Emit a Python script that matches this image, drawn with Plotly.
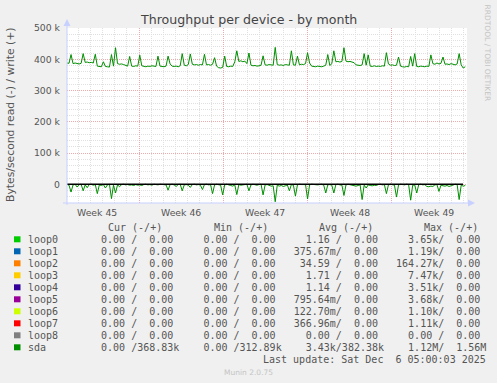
import plotly.graph_objects as go
import pandas as pd

# ---------------- data ----------------
title = "Throughput per device - by month"
y_title = "Bytes/second read (-) / write (+)"

# sda write (+) in kB/s, 4-hourly-ish samples
sda_write_k = [
    388, 387, 415, 386, 388, 386, 385, 387, 418, 390,
    391, 389, 390, 388, 416, 378, 377, 376, 392, 377,
    376, 375, 415, 378, 437, 386, 384, 385, 383, 381,
    378, 409, 378, 377, 379, 378, 413, 379, 377, 376,
    378, 377, 379, 378, 377, 410, 378, 377, 376, 378,
    410, 385, 378, 377, 378, 376, 379, 418, 381, 379,
    383, 417, 384, 382, 383, 381, 383, 382, 416, 382,
    383, 381, 384, 405, 378, 373, 372, 374, 410, 377,
    376, 378, 377, 392, 427, 393, 395, 392, 394, 386,
    420, 381, 379, 380, 378, 379, 381, 411, 382, 381,
    383, 382, 381, 438, 383, 381, 382, 380, 383, 382,
    381, 427, 382, 381, 410, 382, 384, 383, 386, 421,
    388, 378, 377, 376, 378, 377, 376, 378, 381, 415,
    380, 386, 427, 392, 393, 391, 393, 437, 394, 392,
    393, 391, 389, 382, 381, 380, 382, 418, 381, 414,
    378, 377, 379, 377, 378, 377, 379, 378, 421, 385,
    381, 382, 380, 381, 407, 378, 376, 375, 377, 376,
    409, 378, 418, 377, 376, 378, 377, 376, 378, 377,
    414, 386, 384, 388, 385, 387, 407, 384, 385, 383,
    386, 384, 382, 385, 418, 382, 372, 376,
]

# sda read (-) in kB/s (drawn below zero)
sda_read_k = [
    0, -3, -25, -2, 0, -9, -1, 0, -21, -2,
    -11, -1, 0, -3, -1, -30, -2, -4, -1, -12,
    -2, 0, -46, -3, -28, -2, -8, -1, 0, -2,
    -1, -3, -2, -4, -1, -3, -2, -4, -1, 0,
    -2, -1, -3, 0, -1, -2, 0, -1, 0, -2,
    -19, -1, 0, -2, -7, -1, 0, -21, -2, -1,
    -3, -10, -1, 0, -2, -1, -3, -17, -1, 0,
    -2, -1, -30, -2, 0, -1, -3, -34, -2, 0,
    -1, -4, -6, -2, -33, -1, -3, -2, -1, 0,
    -21, -2, 0, -1, -3, -1, 0, -34, -2, -1,
    -3, -6, -5, -56, -3, -6, -4, -7, -5, -2,
    -21, -1, -3, -38, -2, 0, -1, -2, -1, -47,
    -2, 0, -1, 0, -2, -1, 0, -3, -28, -2,
    -1, -3, -28, -1, 0, -2, -3, -36, -2, 0,
    -1, -3, -5, -6, -4, -2, -49, -3, -12, -2,
    -4, -5, -3, -4, -1, 0, -2, -1, -30, -2,
    0, -1, -3, -41, -2, 0, -1, -2, 0, -1,
    -51, -3, -2, -28, -1, 0, -2, -1, -7, -8,
    -6, -7, -2, -1, -23, -3, -5, -6, -4, -7,
    -5, -2, 0, -1, -49, -3, -6, -4,
]

range_start = "2025-11-03 00:20"
range_end = "2025-12-06 06:25"
week_starts = ["2025-11-09", "2025-11-16", "2025-11-23", "2025-11-30"]
week_label_pos = ["2025-11-05 12:00", "2025-11-12 12:00", "2025-11-19 12:00",
                  "2025-11-26 12:00", "2025-12-03 12:00"]
week_labels = ["Week 45", "Week 46", "Week 47", "Week 48", "Week 49"]

y_tickvals = [0, 100000, 200000, 300000, 400000, 500000]
y_ticktext = ["0", "100 k", "200 k", "300 k", "400 k", "500 k"]

legend_names = ["loop0", "loop1", "loop2", "loop3", "loop4", "loop5",
                "loop6", "loop7", "loop8", "sda"]
legend_colors = ["#00CC00", "#0066B3", "#FF8000", "#FFCC00", "#330099",
                 "#990099", "#CCFF00", "#FF0000", "#808080", "#008F00"]
col_cur = ["  0.00 /  0.00 "] * 9 + ["  0.00 /368.83k"]
col_min = ["  0.00 /  0.00 "] * 9 + ["  0.00 /312.89k"]
col_avg = ["  1.16 /  0.00 ", "375.67m/  0.00 ", " 34.59 /  0.00 ", "  1.71 /  0.00 ",
           "  1.14 /  0.00 ", "795.64m/  0.00 ", "122.70m/  0.00 ", "366.96m/  0.00 ",
           "  0.00 /  0.00 ", "  3.43k/382.38k"]
col_max = ["  3.65k/  0.00 ", "  1.19k/  0.00 ", "164.27k/  0.00 ", "  7.47k/  0.00 ",
           "  3.51k/  0.00 ", "  3.68k/  0.00 ", "  1.10k/  0.00 ", "  1.11k/  0.00 ",
           "  0.00 /  0.00 ", "  1.12M/  1.56M"]
headers = ["Cur (-/+)", "Min (-/+)", "Avg (-/+)", "Max (-/+)"]
last_update = "Last update: Sat Dec  6 05:00:03 2025"
footer = "Munin 2.0.75"
side_text = "RRDTOOL / TOBI OETIKER"

# ---------------- layout helpers ----------------
W, H = 497, 383
PL, PR, PT, PB = 67, 467, 28, 203
PW, PH = PR - PL, PB - PT


def px(X):
    return (X - PL) / PW


def py(Y):
    return (PB - Y) / PH


def nb(s):
    return s.replace(" ", "\u00a0")


times = pd.date_range(range_start, periods=len(sda_write_k), freq="242min")

# minor grid positions: every midnight except the week boundaries; every 20k except majors
all_days = pd.date_range("2025-11-03", "2025-12-06", freq="D")
minor_days = [d for d in all_days if d.strftime("%Y-%m-%d") not in week_starts]
minor_y = [v for v in range(-60000, 500001, 20000) if v % 100000 != 0]

GREEN = "#008F00"
TXT = "#555555"
MONO = "DejaVu Sans Mono"
SANS = "DejaVu Sans"
MAJOR = "#EDAAAA"
MINOR = "#E0E0E0"

fig = go.Figure()
fig.add_trace(go.Scatter(x=times, y=[v * 1000 for v in sda_read_k], mode="lines",
                         line=dict(color=GREEN, width=1), hoverinfo="skip"))
fig.add_trace(go.Scatter(x=times, y=[v * 1000 for v in sda_write_k], mode="lines",
                         line=dict(color=GREEN, width=1), hoverinfo="skip"))

fig.update_layout(
    width=W, height=H,
    margin=dict(l=PL, r=W - PR, t=PT, b=H - PB),
    paper_bgcolor="#F0F0F0", plot_bgcolor="#FFFFFF",
    showlegend=False,
    font=dict(family=SANS, color=TXT, size=9.3),
)

fig.update_xaxes(
    type="date", range=[range_start, range_end],
    tickmode="array", tickvals=week_starts, ticktext=[""] * len(week_starts),
    showgrid=True, gridcolor=MAJOR, griddash="1px,1px", gridwidth=1,
    minor=dict(tickmode="array", tickvals=minor_days,
               showgrid=True, gridcolor=MINOR, griddash="1px,1px", gridwidth=1),
    zeroline=False, showline=False, ticks="",
)
fig.update_yaxes(
    range=[-60000, 500000],
    tickmode="array", tickvals=y_tickvals, ticktext=y_ticktext,
    tickfont=dict(family=SANS, size=9.3, color=TXT),
    ticks="", ticklabelstandoff=6,
    showgrid=True, gridcolor=MAJOR, griddash="1px,1px", gridwidth=1,
    minor=dict(tickmode="array", tickvals=minor_y,
               showgrid=True, gridcolor=MINOR, griddash="1px,1px", gridwidth=1),
    zeroline=False, showline=False,
)

AX = "#C8D0FF"
shapes = []
# zero line
shapes.append(dict(type="line", xref="paper", yref="y", x0=0, x1=px(463), y0=0, y1=0,
                   line=dict(color="#000000", width=1.3), layer="above"))
# axes with arrows
shapes.append(dict(type="line", xref="paper", yref="paper", x0=0, x1=0,
                   y0=py(205), y1=py(23), line=dict(color=AX, width=1)))
shapes.append(dict(type="line", xref="paper", yref="paper", x0=px(63), x1=px(471),
                   y0=0, y1=0, line=dict(color=AX, width=1)))
shapes.append(dict(type="path", xref="paper", yref="paper",
                   path=f"M {px(63.5)} {py(26)} L {px(67)} {py(19)} L {px(70.5)} {py(26)} Z",
                   fillcolor=AX, line=dict(width=0)))
shapes.append(dict(type="path", xref="paper", yref="paper",
                   path=f"M {px(468)} {py(199.5)} L {px(475)} {py(203)} L {px(468)} {py(206.5)} Z",
                   fillcolor=AX, line=dict(width=0)))

annotations = []
annotations.append(dict(text=title, x=px(248), y=py(19), xref="paper", yref="paper",
                        showarrow=False, xanchor="center", yanchor="middle",
                        font=dict(family=SANS, size=12.6, color="#444444")))
annotations.append(dict(text=y_title, x=px(10), y=py(115), xref="paper", yref="paper",
                        showarrow=False, textangle=-90, xanchor="center", yanchor="middle",
                        font=dict(family=SANS, size=10.8, color=TXT)))
annotations.append(dict(text=side_text, x=px(487.5), y=py(53), xref="paper", yref="paper",
                        showarrow=False, textangle=90, xanchor="center", yanchor="middle",
                        font=dict(family=SANS, size=7.5, color="#C4C4C4")))
for xv, lab in zip(week_label_pos, week_labels):
    annotations.append(dict(text=lab, x=xv, y=py(212.7), xref="x", yref="paper",
                            showarrow=False, xanchor="center", yanchor="middle",
                            font=dict(family=SANS, size=9.3, color=TXT)))

header_x = [107.3, 212.7, 317.7, 422.7]
for hx, h in zip(header_x, headers):
    annotations.append(dict(text=nb(h), x=px(hx - 1), y=py(227.7), xref="paper", yref="paper",
                            showarrow=False, xanchor="left", yanchor="middle",
                            font=dict(family=MONO, size=10, color=TXT)))

for k, name in enumerate(legend_names):
    yc = 239.3 + 12 * k
    shapes.append(dict(type="rect", xref="paper", yref="paper",
                       x0=px(14), x1=px(20.5), y0=py(yc + 3), y1=py(yc - 3),
                       fillcolor=legend_colors[k], line=dict(width=0)))
    annotations.append(dict(text=name, x=px(26.7 - 1), y=py(yc), xref="paper", yref="paper",
                            showarrow=False, xanchor="left", yanchor="middle",
                            font=dict(family=MONO, size=10, color=TXT)))
    row = col_cur[k] + "  " + col_min[k] + "  " + col_avg[k] + "  " + col_max[k]
    annotations.append(dict(text=nb(row), x=px(88 - 1), y=py(yc), xref="paper", yref="paper",
                            showarrow=False, xanchor="left", yanchor="middle",
                            font=dict(family=MONO, size=10, color=TXT)))

annotations.append(dict(text=nb(last_update), x=px(261.7 - 1), y=py(359.3), xref="paper",
                        yref="paper", showarrow=False, xanchor="left", yanchor="middle",
                        font=dict(family=MONO, size=10, color=TXT)))
annotations.append(dict(text=footer, x=px(248), y=py(372.3), xref="paper", yref="paper",
                        showarrow=False, xanchor="center", yanchor="middle",
                        font=dict(family=SANS, size=7.5, color="#C4C4C4")))

fig.update_layout(shapes=shapes, annotations=annotations)
fig.write_html("out.html")
